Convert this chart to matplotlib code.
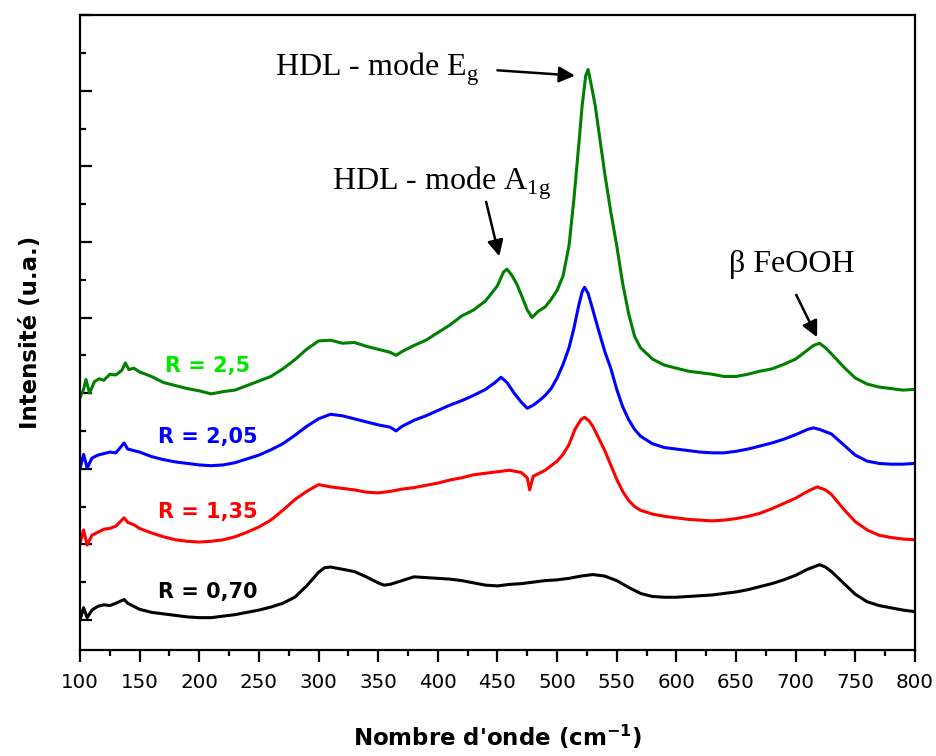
import matplotlib.pyplot as plt
from matplotlib.ticker import MultipleLocator, NullFormatter

# Raman spectra (wavenumber in cm-1, intensity in a.u., already offset)
x_070 = [100, 103, 106, 110, 115, 120, 125, 130, 137, 140, 145, 150, 160, 170, 180, 190,
         200, 210, 220, 230, 240, 250, 260, 270, 280, 290, 300, 305, 310, 320, 330, 340,
         350, 355, 360, 370, 380, 390, 400, 410, 420, 430, 440, 450, 460, 470, 480, 490,
         500, 510, 520, 530, 540, 550, 560, 570, 580, 590, 600, 610, 620, 630, 640, 650,
         660, 670, 680, 690, 700, 710, 720, 725, 730, 740, 750, 760, 770, 780, 790, 800]
y_070 = [0.00, 0.16, 0.03, 0.13, 0.18, 0.20, 0.19, 0.22, 0.27, 0.22, 0.18, 0.14, 0.10,
         0.08, 0.06, 0.04, 0.03, 0.03, 0.05, 0.07, 0.10, 0.13, 0.17, 0.22, 0.30, 0.45,
         0.63, 0.69, 0.70, 0.67, 0.64, 0.57, 0.49, 0.46, 0.47, 0.52, 0.57, 0.56, 0.55,
         0.54, 0.52, 0.49, 0.46, 0.45, 0.47, 0.48, 0.50, 0.52, 0.53, 0.55, 0.58, 0.60,
         0.58, 0.52, 0.43, 0.35, 0.31, 0.30, 0.30, 0.31, 0.32, 0.33, 0.35, 0.37, 0.40,
         0.44, 0.48, 0.53, 0.59, 0.67, 0.73, 0.70, 0.64, 0.49, 0.34, 0.24, 0.19, 0.16,
         0.13, 0.11]

x_135 = [100, 103, 106, 110, 115, 120, 125, 130, 137, 140, 145, 150, 160, 170, 180, 190,
         200, 210, 220, 230, 240, 250, 260, 270, 280, 290, 300, 310, 320, 330, 340, 350,
         360, 370, 380, 390, 400, 410, 420, 430, 440, 450, 460, 470, 475, 477, 480, 490,
         500, 505, 510, 515, 520, 523, 527, 530, 535, 540, 545, 550, 555, 560, 565, 570,
         580, 590, 600, 610, 620, 630, 640, 650, 660, 670, 680, 690, 700, 710, 718, 725,
         730, 740, 750, 760, 770, 780, 790, 800]
y_135 = [1.01, 1.19, 0.99, 1.12, 1.16, 1.20, 1.21, 1.24, 1.35, 1.29, 1.26, 1.21, 1.15,
         1.10, 1.06, 1.04, 1.03, 1.04, 1.06, 1.10, 1.16, 1.23, 1.32, 1.45, 1.59, 1.70,
         1.79, 1.76, 1.74, 1.72, 1.69, 1.68, 1.70, 1.73, 1.75, 1.78, 1.81, 1.85, 1.88,
         1.92, 1.94, 1.96, 1.98, 1.95, 1.88, 1.72, 1.90, 1.98, 2.10, 2.19, 2.32, 2.52,
         2.65, 2.68, 2.63, 2.56, 2.40, 2.24, 2.05, 1.86, 1.70, 1.58, 1.50, 1.45, 1.40,
         1.37, 1.35, 1.33, 1.32, 1.31, 1.32, 1.34, 1.37, 1.41, 1.47, 1.54, 1.61, 1.70,
         1.76, 1.72, 1.66, 1.47, 1.30, 1.19, 1.12, 1.09, 1.07, 1.06]

x_205 = [100, 103, 106, 110, 115, 120, 125, 130, 137, 140, 145, 150, 160, 170, 180, 190,
         200, 210, 220, 230, 240, 250, 260, 270, 280, 290, 300, 310, 320, 330, 340, 350,
         360, 365, 370, 380, 390, 400, 410, 420, 430, 440, 448, 453, 458, 464, 470, 475,
         480, 485, 490, 495, 500, 505, 510, 514, 518, 521, 523, 526, 530, 535, 540, 545,
         550, 555, 560, 565, 570, 580, 590, 600, 610, 620, 630, 640, 650, 660, 670, 680,
         690, 700, 710, 715, 720, 730, 740, 750, 760, 770, 780, 790, 800]
y_205 = [2.00, 2.19, 2.01, 2.14, 2.18, 2.20, 2.22, 2.21, 2.34, 2.26, 2.24, 2.22, 2.16,
         2.12, 2.09, 2.07, 2.05, 2.04, 2.05, 2.08, 2.13, 2.18, 2.25, 2.33, 2.44, 2.56,
         2.66, 2.72, 2.70, 2.66, 2.62, 2.58, 2.55, 2.50, 2.56, 2.64, 2.70, 2.77, 2.84,
         2.90, 2.97, 3.05, 3.14, 3.21, 3.14, 3.00, 2.88, 2.80, 2.84, 2.90, 2.97, 3.06,
         3.20, 3.38, 3.60, 3.85, 4.15, 4.34, 4.40, 4.32, 4.10, 3.82, 3.55, 3.33, 3.05,
         2.82, 2.65, 2.52, 2.43, 2.33, 2.28, 2.26, 2.24, 2.22, 2.21, 2.21, 2.23, 2.26,
         2.30, 2.34, 2.39, 2.45, 2.52, 2.54, 2.52, 2.46, 2.32, 2.18, 2.10, 2.07, 2.06,
         2.06, 2.07]

x_25 = [100, 103, 105, 108, 112, 116, 120, 125, 130, 135, 138, 141, 145, 150, 160, 170,
        180, 190, 200, 210, 220, 230, 240, 250, 260, 270, 280, 290, 300, 310, 320, 330,
        340, 350, 360, 365, 370, 380, 390, 400, 410, 420, 430, 440, 450, 455, 458, 462,
        466, 470, 475, 479, 484, 490, 495, 500, 505, 510, 514, 518, 521, 524, 526, 529,
        532, 536, 540, 545, 550, 555, 560, 565, 570, 580, 590, 600, 610, 620, 630, 640,
        650, 660, 670, 680, 690, 700, 710, 715, 720, 725, 730, 740, 750, 760, 770, 780,
        790, 800]
y_25 = [2.94, 3.05, 3.18, 3.00, 3.15, 3.19, 3.17, 3.25, 3.24, 3.30, 3.40, 3.31, 3.33,
        3.28, 3.22, 3.14, 3.10, 3.06, 3.03, 2.99, 3.02, 3.04, 3.10, 3.16, 3.22, 3.32,
        3.44, 3.58, 3.69, 3.70, 3.66, 3.67, 3.62, 3.58, 3.54, 3.50, 3.55, 3.63, 3.70,
        3.80, 3.90, 4.02, 4.10, 4.22, 4.42, 4.60, 4.64, 4.56, 4.45, 4.30, 4.10, 4.00,
        4.08, 4.14, 4.24, 4.36, 4.55, 4.95, 5.55, 6.25, 6.80, 7.20, 7.28, 7.05, 6.80,
        6.35, 5.90, 5.40, 4.95, 4.45, 4.05, 3.75, 3.60, 3.45, 3.37, 3.33, 3.29, 3.27,
        3.25, 3.22, 3.22, 3.25, 3.29, 3.32, 3.38, 3.45, 3.57, 3.63, 3.66, 3.60, 3.52,
        3.35, 3.20, 3.12, 3.08, 3.06, 3.04, 3.05]

series = [
    (x_070, y_070, 'black', 'R = 0,70', 'black', 0.37),
    (x_135, y_135, '#ff0000', 'R = 1,35', '#ff0000', 1.43),
    (x_205, y_205, '#0000ff', 'R = 2,05', '#0000ff', 2.42),
    (x_25, y_25, '#008000', 'R = 2,5', '#00e600', 3.36),
]

fig = plt.figure(figsize=(9.37, 7.56), dpi=100)
ax = fig.add_axes([0.0854, 0.140, 0.891, 0.840])

for xs, ys, col, lab, labcol, ylab in series:
    ax.plot(xs, ys, color=col, lw=2.2)
    ax.text(207, ylab, lab, color=labcol, fontsize=15, fontweight='bold',
            ha='center', va='center')

serif = 'Liberation Serif'
ax.text(263.5, 7.196, r'HDL - mode E$_\mathregular{g}$', family=serif, fontsize=23, va='baseline')
ax.text(311, 5.695, r'HDL - mode A$_\mathregular{1g}$', family=serif, fontsize=23, va='baseline')
ax.text(644, 4.60, 'β FeOOH', family=serif, fontsize=23, va='baseline')

arrow = dict(arrowstyle='-|>', color='black', lw=1.8, mutation_scale=24, shrinkA=0, shrinkB=0)
ax.annotate('', xy=(515, 7.20), xytext=(450, 7.27), arrowprops=arrow)
ax.annotate('', xy=(451.5, 4.81), xytext=(440.5, 5.53), arrowprops=arrow)
ax.annotate('', xy=(718, 3.74), xytext=(700.5, 4.30), arrowprops=arrow)

ax.set_xlim(100, 800)
ax.set_ylim(-0.4, 8.0)
ax.xaxis.set_major_locator(MultipleLocator(50))
ax.xaxis.set_minor_locator(MultipleLocator(25))
ax.yaxis.set_major_locator(MultipleLocator(1))
ax.yaxis.set_minor_locator(MultipleLocator(0.5))
ax.yaxis.set_major_formatter(NullFormatter())

for s in ax.spines.values():
    s.set_linewidth(1.6)
ax.tick_params(axis='x', which='major', direction='out', length=8.6, width=1.6,
               labelsize=14.3, pad=8)
ax.tick_params(axis='x', which='minor', direction='out', length=4.3, width=1.6)
ax.tick_params(axis='y', which='major', direction='in', length=8.6, width=1.6)
ax.tick_params(axis='y', which='minor', direction='in', length=4.3, width=1.6)

ax.set_xlabel(r"Nombre d'onde (cm$^\mathregular{-1}$)", fontsize=16.5, fontweight='bold')
ax.set_ylabel('Intensité (u.a.)', fontsize=16.5, fontweight='bold')
ax.xaxis.set_label_coords(0.5, -0.115)
ax.yaxis.set_label_coords(-0.046, 0.5)

fig.savefig('out.png', dpi=100)
